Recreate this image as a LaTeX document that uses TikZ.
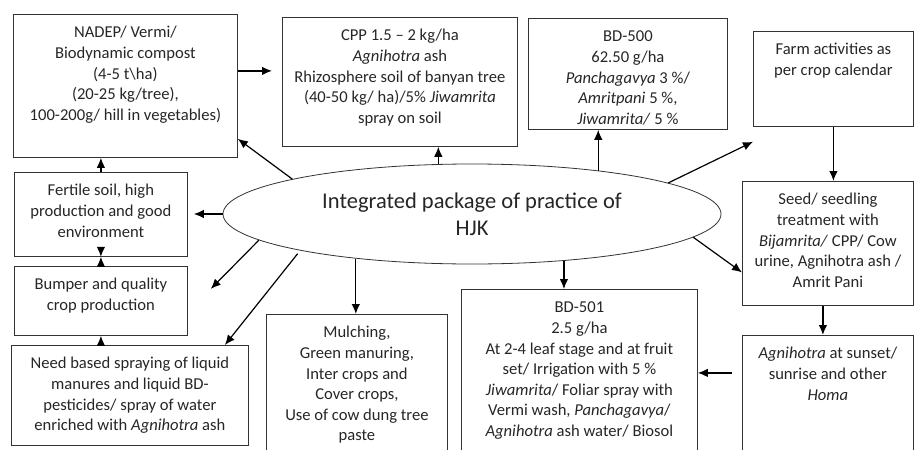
\documentclass[tikz,border=0pt]{standalone}
\usepackage{fontspec}
\setmainfont{Carlito}
\usetikzlibrary{shapes.geometric,arrows.meta}

% box with text set from the top: name, x, y, width, height, text
\newcommand{\hjkbox}[6]{%
  \node[pbox] (#1) at (#2,-#3) {\parbox[c][#5pt][t]{#4pt}{\centering\rule{0pt}{23.5pt}#6}};}

\begin{document}
\begin{tikzpicture}[x=1pt, y=1pt,
    pbox/.style={draw=black!80, line width=0.8pt, anchor=north west, inner sep=0pt,
      font=\fontsize{16.6}{20.6}\selectfont, text=black!85},
    arr/.style={-{Latex[length=10pt,width=8.5pt]}, line width=1.2pt},
    every node/.style={inner sep=0pt}]
  \useasboundingbox (0,0) rectangle (914,-450);

  % centre
  \node[ellipse, draw=black!80, line width=0.8pt, minimum width=498, minimum height=100,
    align=center, font=\fontsize{22.5}{27}\selectfont, text=black!85]
    (hjk) at (472,-214) {Integrated package of practice of\\HJK};

  % boxes
  \hjkbox{nadep}{13}{14}{224}{143}{NADEP/ Vermi/\\Biodynamic compost\\(4-5 t\textbackslash ha)\\(20-25 kg/tree),\\100-200g/ hill in vegetables)}
  \hjkbox{cpp}{282}{17}{235}{129}{CPP 1.5 -- 2 kg/ha\\\textit{Agnihotra} ash\\Rhizosphere soil of banyan tree\\(40-50 kg/ ha)/5\% \textit{Jiwamrita}\\spray on soil}
  \hjkbox{bdfive}{528}{18}{199}{111}{BD-500\\62.50 g/ha\\\textit{Panchagavya} 3 \%/\\\textit{Amritpani} 5 \%,\\\textit{Jiwamrita/} 5 \%}
  \hjkbox{farm}{753}{31}{160}{95}{Farm activities as\\per crop calendar}
  \hjkbox{fertile}{14}{172}{173}{84}{Fertile soil, high\\production and good\\environment}
  \hjkbox{bumper}{14}{266}{173}{69}{Bumper and quality\\crop production}
  \hjkbox{need}{11}{345}{237}{100}{Need based spraying of liquid\\manures and liquid BD-\\pesticides/ spray of water\\enriched with \textit{Agnihotra} ash}
  \hjkbox{mulch}{266}{314}{181}{145}{Mulching,\\Green manuring,\\Inter crops and\\Cover crops,\\Use of cow dung tree\\paste}
  \hjkbox{bdfiveone}{461}{289}{236}{170}{BD-501\\2.5 g/ha\\At 2-4 leaf stage and at fruit\\set/ Irrigation with 5 \%\\\textit{Jiwamrita}/ Foliar spray with\\Vermi wash, \textit{Panchagavya}/\\\textit{Agnihotra} ash water/ Biosol}
  \hjkbox{seed}{742}{181}{171}{124}{Seed/ seedling\\treatment with\\\textit{Bijamrita/} CPP/ Cow\\urine, Agnihotra ash /\\Amrit Pani}
  \hjkbox{agni}{742}{335}{171}{125}{\textit{Agnihotra} at sunset/\\sunrise and other\\\textit{Homa}}

  % connectors from the centre
  \draw[arr] (hjk.169.5) -- ([yshift=19]nadep.south east);
  \draw[arr] (hjk.124.5) -- (hjk.124.5 |- cpp.south);
  \draw[arr] (hjk.19.3) -- (hjk.19.3 |- bdfive.south);
  \draw[arr] (hjk.9.6) -- ([yshift=-15]farm.south west);
  \draw[arr] (hjk.-6.1) -- ([yshift=-29]seed.west);
  \draw[arr] (hjk.-27.4) -- (hjk.-27.4 |- bdfiveone.north);
  \draw[arr] (hjk.201.7) -- (hjk.201.7 |- mulch.north);
  \draw[arr, shorten <=4pt] (hjk.192.1) -- ([xshift=95]need.north);
  \draw[arr] (hjk.187.6) -- ([shift={(23,12)}]bumper.east);
  \draw[arr, shorten >=6pt] (hjk.west) -- (hjk.west -| fertile.east);

  % connectors between boxes
  \coordinate (nadepout) at ([yshift=15]nadep.east);
  \draw[arr, shorten >=10pt] (nadepout) -- (nadepout -| cpp.west);
  \draw[arr] (fertile.north) -- (fertile.north |- nadep.south);
  \draw[arr] (bumper.north) -- (bumper.north |- fertile.south);
  \draw[arr] ([yshift=9]bumper.north |- fertile.south) -- (bumper.north |- fertile.south);
  \draw[arr] (bumper.south |- need.north) -- (bumper.south);
  \draw[arr] (farm.south) -- (farm.south |- seed.north);
  \draw[arr] ([xshift=-5]seed.south) -- ([xshift=-5]seed.south |- agni.north);
  \coordinate (agniout) at ([xshift=-10,yshift=25]agni.west);
  \draw[arr] (agniout) -- (agniout -| bdfiveone.east);
\end{tikzpicture}
\end{document}
